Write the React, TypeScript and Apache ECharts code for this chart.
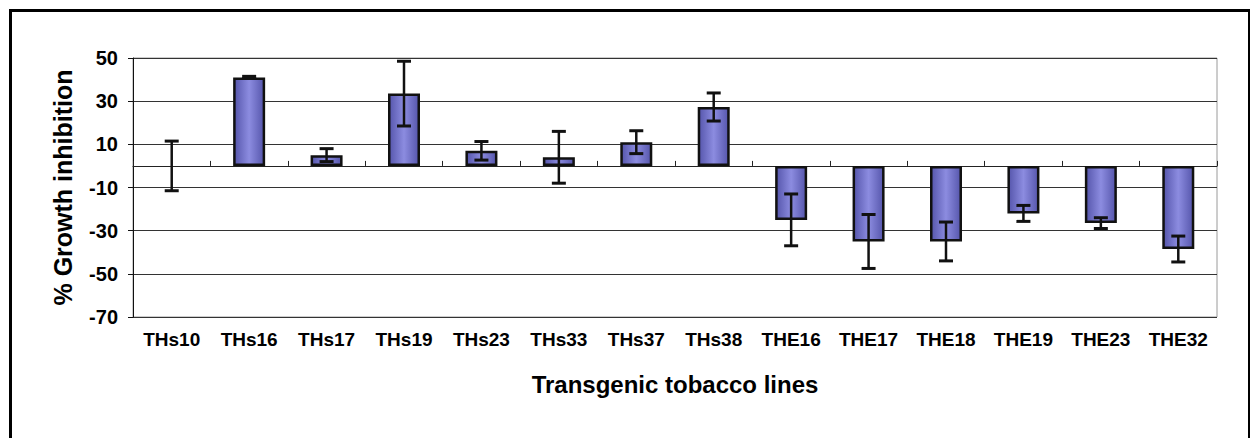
import React, { useEffect, useRef } from "react";
import * as echarts from "echarts";

const categories = [
  "THs10", "THs16", "THs17", "THs19", "THs23", "THs33", "THs37", "THs38",
  "THE16", "THE17", "THE18", "THE19", "THE23", "THE32",
];
const meanValues = [0, 41, 5, 33.5, 7, 4, 11, 27.3, -25, -35, -35, -22, -26.5, -38.5];
const errorValues = [11.5, 0.5, 3, 15, 4.3, 12, 5.3, 6.5, 12, 12.5, 9, 3.7, 2.5, 6];
const yTickLabels = [-70, -50, -30, -10, 10, 30, 50];

const FONT = "Liberation Sans";

export default function App() {
  const ref = useRef<HTMLDivElement>(null);
  useEffect(() => {
    if (!ref.current) return;
    const chart = echarts.init(ref.current, null, { renderer: "svg" });
    const yMin = yTickLabels[0];
    const yMax = yTickLabels[yTickLabels.length - 1];
    const step = yTickLabels[1] - yTickLabels[0];
    const barColor = {
      type: "linear", x: 0, y: 0, x2: 1, y2: 0,
      colorStops: [
        { offset: 0, color: "#5656ac" },
        { offset: 0.5, color: "#8c8ce0" },
        { offset: 1, color: "#5656ac" },
      ],
    };
    chart.setOption({
      animation: false,
      backgroundColor: "#fff",
      textStyle: { fontFamily: FONT, color: "#000" },
      graphic: [
        {
          type: "rect", left: 8, top: 8,
          shape: { width: 1239, height: 445 },
          style: { fill: "none", stroke: "#000", lineWidth: 3 },
        },
      ],
      grid: {
        left: 133, right: 33, top: 58, bottom: 121,
        show: true, borderColor: "#9a9a9a", borderWidth: 1,
      },
      xAxis: [
        {
          type: "category",
          data: categories,
          position: "bottom",
          axisLine: { show: false, onZero: false },
          axisTick: { show: false },
          axisLabel: { fontFamily: FONT, fontWeight: "bold", fontSize: 19, color: "#000", margin: 13, interval: 0 },
          name: "Transgenic tobacco lines",
          nameLocation: "middle",
          nameGap: 55,
          nameTextStyle: { fontFamily: FONT, fontWeight: "bold", fontSize: 24, color: "#000" },
        },
        {
          type: "category",
          data: categories,
          axisLine: { show: true, onZero: true, onZeroAxisIndex: 0, lineStyle: { color: "#222", width: 1 } },
          axisTick: { show: true, inside: false, length: 5, lineStyle: { color: "#222" } },
          axisLabel: { show: false },
        },
      ],
      yAxis: [
        {
          type: "value",
          min: yMin,
          max: yMax,
          show: false,
          splitLine: { show: false },
        },
        {
          type: "value",
          min: 0,
          max: yMax - yMin,
          interval: step,
          position: "left",
          axisLine: { show: true, lineStyle: { color: "#111", width: 1 } },
          axisTick: { show: true, length: 5, lineStyle: { color: "#111" } },
          axisLabel: {
            fontFamily: FONT, fontWeight: "bold", fontSize: 20, color: "#000", margin: 15,
            formatter: (v: number) => String(yTickLabels[Math.round(v / step)]),
          },
          splitLine: { show: true, lineStyle: { color: "#333", width: 1 } },
          name: "% Growth inhibition",
          nameLocation: "middle",
          nameRotate: 90,
          nameGap: 58,
          nameTextStyle: { fontFamily: FONT, fontWeight: "bold", fontSize: 25, color: "#000" },
        },
      ],
      series: [
        {
          type: "bar",
          xAxisIndex: 0,
          yAxisIndex: 0,
          barWidth: 32,
          data: meanValues.map((v) =>
            v === 0 ? { value: v, itemStyle: { borderWidth: 0 } } : v
          ),
          itemStyle: { color: barColor, borderColor: "#111", borderWidth: 2.5 },
          z: 3,
        },
        {
          type: "custom",
          xAxisIndex: 0,
          yAxisIndex: 0,
          z: 4,
          data: meanValues.map((m, i) => [i, m - errorValues[i], m + errorValues[i]]),
          renderItem: (params: any, api: any) => {
            const x = api.value(0);
            const pLow = api.coord([x, api.value(1)]);
            const pHigh = api.coord([x, api.value(2)]);
            const half = 7;
            const st = { stroke: "#111", lineWidth: 2.5 };
            return {
              type: "group",
              children: [
                { type: "line", shape: { x1: pHigh[0], y1: pHigh[1], x2: pLow[0], y2: pLow[1] }, style: st },
                { type: "line", shape: { x1: pHigh[0] - half, y1: pHigh[1], x2: pHigh[0] + half, y2: pHigh[1] }, style: { stroke: "#111", lineWidth: 3 } },
                { type: "line", shape: { x1: pLow[0] - half, y1: pLow[1], x2: pLow[0] + half, y2: pLow[1] }, style: { stroke: "#111", lineWidth: 3 } },
              ],
            };
          },
        },
      ],
    });
    return () => chart.dispose();
  }, []);
  return (
    <div
      ref={ref}
      style={{ position: "fixed", left: 0, top: 0, width: 1250, height: 438, background: "#fff" }}
    />
  );
}
